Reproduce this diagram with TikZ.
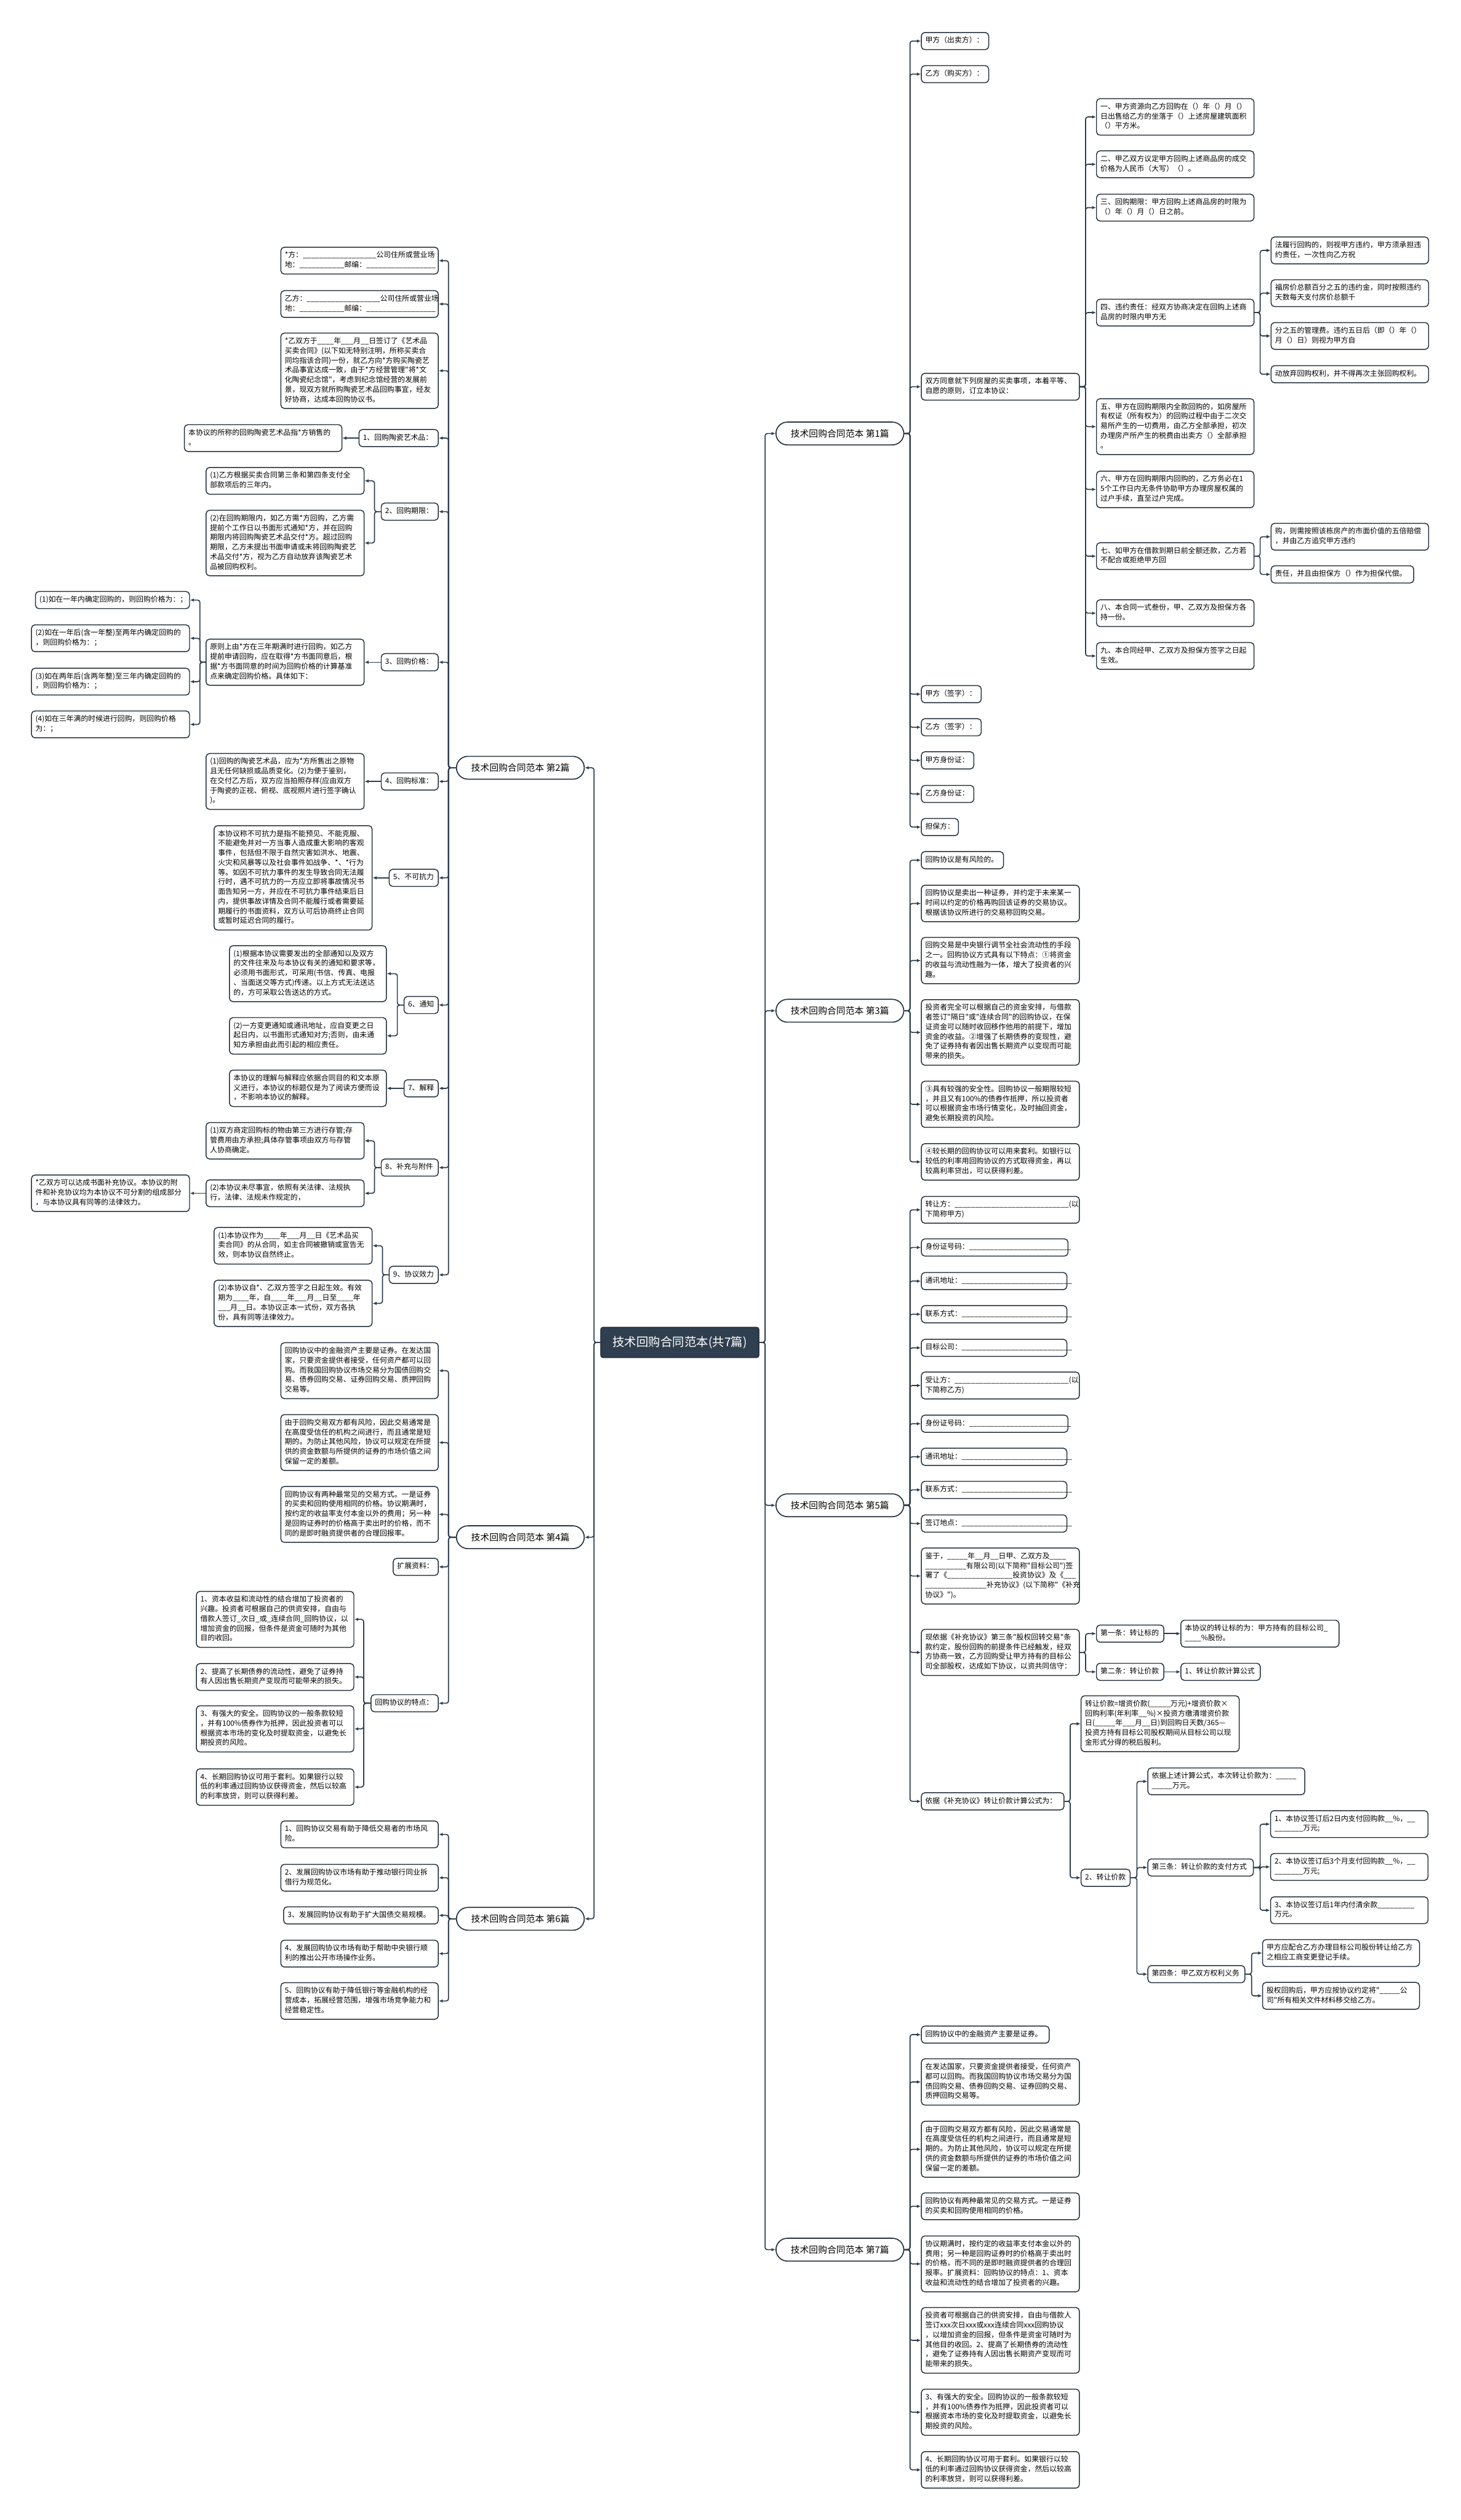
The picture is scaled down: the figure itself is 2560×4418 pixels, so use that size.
\documentclass[tikz,border=0pt]{standalone}
\usepackage{fontspec}
\newfontfamily\cjk{Noto Sans CJK SC}
\usetikzlibrary{arrows.meta}
\definecolor{bd}{HTML}{26323E}
\definecolor{ln}{HTML}{2E3D4C}
\definecolor{rootc}{HTML}{2F3F4F}
\tikzset{
 box/.style={draw=bd, line width=1.6pt, rounded corners=6pt, fill=white, inner xsep=7pt, inner ysep=6.5pt, align=left, font=\cjk\fontsize{12.8}{17}\selectfont, execute at begin node=\strut, execute at end node=\strut},
 pill/.style={draw=bd, line width=1.8pt, rounded corners=20pt, minimum width=224pt, minimum height=40pt, inner sep=0pt, fill=white, font=\cjk\fontsize{16}{20}\selectfont},
 rootbox/.style={draw=bd, line width=1.8pt, rounded corners=4pt, fill=rootc, text=white, minimum width=277pt, minimum height=53pt, inner sep=0pt, font=\cjk\fontsize{21}{25}\selectfont},
 conn/.style={draw=ln, line width=1.8pt, rounded corners=4pt, -{Latex[length=7pt,width=6pt]}},
}
\newcommand\nodeR[5]{\node[box,anchor=west,text width=#4pt] (#1) at (#2,#3) {#5};}
\newcommand\nodeL[5]{\node[box,anchor=east,text width=#4pt] (#1) at (#2,#3) {#5};}
\begin{document}
\begin{tikzpicture}[x=1pt,y=-1pt]
\fill[white] (0,0) rectangle (2560,4418);
\useasboundingbox (0,0) rectangle (2560,4418);
% root and level 1
\node[rootbox] (root) at (1191.5,2353.5) {技术回购合同范本(共7篇)};
\node[pill] (p1) at (1472,760) {技术回购合同范本 第1篇};
\node[pill] (p3) at (1472,1772) {技术回购合同范本 第3篇};
\node[pill] (p5) at (1472,2639) {技术回购合同范本 第5篇};
\node[pill] (p7) at (1472,3944) {技术回购合同范本 第7篇};
\node[pill] (p2) at (912,1346) {技术回购合同范本 第2篇};
\node[pill] (p4) at (912,2695) {技术回购合同范本 第4篇};
\node[pill] (p6) at (912,3364) {技术回购合同范本 第6篇};
% ---- 第1篇
\nodeR{a1}{1614}{72}{104}{甲方（出卖方）：}
\nodeR{a2}{1614}{130}{104}{乙方（购买方）：}
\nodeR{a3}{1614}{678}{263}{双方同意就下列房屋的买卖事项，本着平等、\\自愿的原则，订立本协议：}
\nodeR{a31}{1921}{205}{262}{一、甲方资源向乙方回购在（）年（）月（）\\日出售给乙方的坐落于（）上述房屋建筑面积\\（）平方米。}
\nodeR{a32}{1921}{288}{262}{二、甲乙双方议定甲方回购上述商品房的成交\\价格为人民币（大写）（）。}
\nodeR{a33}{1921}{364}{262}{三、回购期限：甲方回购上述商品房的时限为\\（）年（）月（）日之前。}
\nodeR{a34}{1921}{548}{262}{四、违约责任：经双方协商决定在回购上述商\\品房的时限内甲方无}
\nodeR{a341}{2227}{439}{262}{法履行回购的，则视甲方违约，甲方须承担违\\约责任，一次性向乙方祝}
\nodeR{a342}{2227}{514}{262}{福房价总额百分之五的违约金，同时按照违约\\天数每天支付房价总额千}
\nodeR{a343}{2227}{589}{262}{分之五的管理费。违约五日后（即（）年（）\\月（）日）则视为甲方自}
\nodeR{a344}{2227}{656}{262}{动放弃回购权利，并不得再次主张回购权利。}
\nodeR{a35}{1921}{748}{262}{五、甲方在回购期限内全款回购的，如房屋所\\有权证（所有权为）的回购过程中由于二次交\\易所产生的一切费用，由乙方全部承担，初次\\办理房产所产生的税费由出卖方（）全部承担\\。}
\nodeR{a36}{1921}{858}{262}{六、甲方在回购期限内回购的，乙方务必在1\\5个工作日内无条件协助甲方办理房屋权属的\\过户手续，直至过户完成。}
\nodeR{a37}{1921}{975}{262}{七、如甲方在借款到期日前全额还款，乙方若\\不配合或拒绝甲方回}
\nodeR{a371}{2227}{941}{262}{购，则需按照该栋房产的市面价值的五倍赔偿\\，并由乙方追究甲方违约}
\nodeR{a372}{2227}{1007}{236}{责任，并且由担保方（）作为担保代偿。}
\nodeR{a38}{1921}{1075}{262}{八、本合同一式叁份，甲、乙双方及担保方各\\持一份。}
\nodeR{a39}{1921}{1150}{262}{九、本合同经甲、乙双方及担保方签字之日起\\生效。}
\nodeR{a4}{1614}{1217}{91}{甲方（签字）：}
\nodeR{a5}{1614}{1275}{91}{乙方（签字）：}
\nodeR{a6}{1614}{1333}{78}{甲方身份证：}
\nodeR{a7}{1614}{1392}{78}{乙方身份证：}
\nodeR{a8}{1614}{1450}{51}{担保方：}
% ---- 第3篇
\nodeR{b1}{1614}{1508}{130}{回购协议是有风险的。}
\nodeR{b2}{1614}{1584}{263}{回购协议是卖出一种证券，并约定于未来某一\\时间以约定的价格再购回该证券的交易协议。\\根据该协议所进行的交易称回购交易。}
\nodeR{b3}{1614}{1684}{263}{回购交易是中央银行调节全社会流动性的手段\\之一。回购协议方式具有以下特点：①将资金\\的收益与流动性融为一体，增大了投资者的兴\\趣。}
\nodeR{b4}{1614}{1810}{263}{投资者完全可以根据自己的资金安排，与借款\\者签订"隔日"或"连续合同"的回购协议，在保\\证资金可以随时收回移作他用的前提下，增加\\资金的收益。②增强了长期债券的变现性，避\\免了证券持有者因出售长期资产以变现而可能\\带来的损失。}
\nodeR{b5}{1614}{1936}{263}{③具有较强的安全性。回购协议一般期限较短\\，并且又有100\%的债券作抵押，所以投资者\\可以根据资金市场行情变化，及时抽回资金，\\避免长期投资的风险。}
\nodeR{b6}{1614}{2037}{263}{④较长期的回购协议可以用来套利。如银行以\\较低的利率用回购协议的方式取得资金，再以\\较高利率贷出，可以获得利差。}
% ---- 第5篇
\nodeR{c1}{1614}{2121}{263}{转让方：\_\_\_\_\_\_\_\_\_\_\_\_\_\_\_\_\_\_\_\_\_\_\_\_\_\_\_\_(以\\下简称甲方)}
\nodeR{c2}{1614}{2187}{243}{身份证号码：\_\_\_\_\_\_\_\_\_\_\_\_\_\_\_\_\_\_\_\_\_\_\_\_\_}
\nodeR{c3}{1614}{2246}{241}{通讯地址：\_\_\_\_\_\_\_\_\_\_\_\_\_\_\_\_\_\_\_\_\_\_\_\_\_\_\_}
\nodeR{c4}{1614}{2304}{241}{联系方式：\_\_\_\_\_\_\_\_\_\_\_\_\_\_\_\_\_\_\_\_\_\_\_\_\_\_\_}
\nodeR{c5}{1614}{2363}{241}{目标公司：\_\_\_\_\_\_\_\_\_\_\_\_\_\_\_\_\_\_\_\_\_\_\_\_\_\_\_}
\nodeR{c6}{1614}{2429}{263}{受让方：\_\_\_\_\_\_\_\_\_\_\_\_\_\_\_\_\_\_\_\_\_\_\_\_\_\_\_\_(以\\下简称乙方)}
\nodeR{c7}{1614}{2496}{243}{身份证号码：\_\_\_\_\_\_\_\_\_\_\_\_\_\_\_\_\_\_\_\_\_\_\_\_\_}
\nodeR{c8}{1614}{2554}{241}{通讯地址：\_\_\_\_\_\_\_\_\_\_\_\_\_\_\_\_\_\_\_\_\_\_\_\_\_\_\_}
\nodeR{c9}{1614}{2612}{241}{联系方式：\_\_\_\_\_\_\_\_\_\_\_\_\_\_\_\_\_\_\_\_\_\_\_\_\_\_\_}
\nodeR{c10}{1614}{2671}{241}{签订地点：\_\_\_\_\_\_\_\_\_\_\_\_\_\_\_\_\_\_\_\_\_\_\_\_\_\_\_}
\nodeR{c11}{1614}{2763}{263}{鉴于，\_\_\_\_\_年\_\_月\_\_日甲、乙双方及\_\_\_\_\\\_\_\_\_\_\_\_\_\_\_有限公司(以下简称"目标公司")签\\署了《\_\_\_\_\_\_\_\_\_\_\_\_\_\_\_\_投资协议》及《\_\_\_\\\_\_\_\_\_\_\_\_\_\_\_\_\_\_\_补充协议》(以下简称"《补充\\协议》")。}
\nodeR{c12}{1614}{2897}{263}{现依据《补充协议》第三条"股权回转交易"条\\款约定，股份回购的前提条件已经触发，经双\\方协商一致，乙方回购受让甲方持有的目标公\\司全部股权，达成如下协议，以资共同信守：}
\nodeR{c121}{1921}{2864}{104}{第一条：转让标的}
\nodeR{c1211}{2069}{2864}{263}{本协议的转让标的为：甲方持有的目标公司\_\\\_\_\_\_\%股份。}
\nodeR{c122}{1921}{2931}{104}{第二条：转让价款}
\nodeR{c1221}{2069}{2931}{125}{1、转让价款计算公式}
\nodeR{c13}{1614}{3158}{236}{依据《补充协议》转让价款计算公式为：}
\nodeR{c131}{1894}{3022}{263}{转让价款=增资价款(\_\_\_\_\_万元)+增资价款×\\回购利率(年利率\_\_\%)×投资方缴清增资价款\\日(\_\_\_\_\_年\_\_\_月\_\_日)到回购日天数/365—\\投资方持有目标公司股权期间从目标公司以现\\金形式分得的税后股利。}
\nodeR{c132}{1894}{3292}{72}{2、转让价款}
\nodeR{c1321}{2011}{3123}{261}{依据上述计算公式，本次转让价款为：\_\_\_\_\_\\\_\_\_\_\_万元。}
\nodeR{c1322}{2011}{3274}{171}{第三条：转让价款的支付方式}
\nodeR{c13221}{2226}{3198}{262}{1、本协议签订后2日内支付回购款\_\_\%，\_\_\\\_\_\_\_\_\_\_万元;}
\nodeR{c13222}{2226}{3273}{262}{2、本协议签订后3个月支付回购款\_\_\%，\_\_\\\_\_\_\_\_\_\_万元;}
\nodeR{c13223}{2226}{3349}{262}{3、本协议签订后1年内付清余款\_\_\_\_\_\_\_\_\_\\万元。}
\nodeR{c1323}{2011}{3461}{156}{第四条：甲乙双方权利义务}
\nodeR{c13231}{2212}{3424}{261}{甲方应配合乙方办理目标公司股份转让给乙方\\之相应工商变更登记手续。}
\nodeR{c13232}{2212}{3499}{261}{股权回购后，甲方应按协议约定将"\_\_\_\_\_公\\司"所有相关文件材料移交给乙方。}
% ---- 第7篇
\nodeR{d1}{1614}{3567}{210}{回购协议中的金融资产主要是证券。}
\nodeR{d2}{1614}{3650}{263}{在发达国家，只要资金提供者接受，任何资产\\都可以回购。而我国回购协议市场交易分为国\\债回购交易、债券回购交易、证券回购交易、\\质押回购交易等。}
\nodeR{d3}{1614}{3768}{263}{由于回购交易双方都有风险，因此交易通常是\\在高度受信任的机构之间进行，而且通常是短\\期的。为防止其他风险，协议可以规定在所提\\供的资金数额与所提供的证券的市场价值之间\\保留一定的差额。}
\nodeR{d4}{1614}{3868}{263}{回购协议有两种最常见的交易方式。一是证券\\的买卖和回购使用相同的价格。}
\nodeR{d5}{1614}{3969}{263}{协议期满时，按约定的收益率支付本金以外的\\费用；另一种是回购证券时的价格高于卖出时\\的价格，而不同的是即时融资提供者的合理回\\报率。扩展资料：回购协议的特点：1、资本\\收益和流动性的结合增加了投资者的兴趣。}
\nodeR{d6}{1614}{4103}{263}{投资者可根据自己的供资安排，自由与借款人\\签订xxx次日xxx或xxx连续合同xxx回购协议\\，以增加资金的回报，但条件是资金可随时为\\其他目的收回。2、提高了长期债券的流动性\\，避免了证券持有人因出售长期资产变现而可\\能带来的损失。}
\nodeR{d7}{1614}{4229}{263}{3、有强大的安全。回购协议的一般条款较短\\，并有100\%债券作为抵押，因此投资者可以\\根据资本市场的变化及时提取资金，以避免长\\期投资的风险。}
\nodeR{d8}{1614}{4330}{263}{4、长期回购协议可用于套利。如果银行以较\\低的利率通过回购协议获得资金，然后以较高\\的利率放贷，则可以获得利差。}
% ---- 第2篇 (left)
\nodeL{e1}{769}{457}{262}{*方：\_\_\_\_\_\_\_\_\_\_\_\_\_\_\_\_\_\_公司住所或营业场\\地：\_\_\_\_\_\_\_\_\_\_\_邮编：\_\_\_\_\_\_\_\_\_\_\_\_\_\_\_\_\_}
\nodeL{e2}{769}{533}{262}{乙方：\_\_\_\_\_\_\_\_\_\_\_\_\_\_\_\_\_\_公司住所或营业场\\地：\_\_\_\_\_\_\_\_\_\_\_邮编：\_\_\_\_\_\_\_\_\_\_\_\_\_\_\_\_\_}
\nodeL{e3}{769}{650}{262}{*乙双方于\_\_\_\_年\_\_\_月\_\_日签订了《艺术品\\买卖合同》(以下如无特别注明，所称买卖合\\同均指该合同)一份，就乙方向*方购买陶瓷艺\\术品事宜达成一致，由于*方经营管理"将*文\\化陶瓷纪念馆"，考虑到纪念馆经营的发展前\\景，现双方就所购陶瓷艺术品回购事宜，经友\\好协商，达成本回购协议书。}
\nodeL{e4}{769}{768}{125}{1、回购陶瓷艺术品：}
\nodeL{e41}{600}{768}{262}{本协议的所称的回购陶瓷艺术品指*方销售的\\。}
\nodeL{e5}{769}{897}{86}{2、回购期限：}
\nodeL{e51}{639}{843}{263}{(1)乙方根据买卖合同第三条和第四条支付全\\部款项后的三年内。}
\nodeL{e52}{639}{952}{263}{(2)在回购期限内，如乙方需*方回购，乙方需\\提前个工作日以书面形式通知*方，并在回购\\期限内将回购陶瓷艺术品交付*方。超过回购\\期限，乙方未提出书面申请或未将回购陶瓷艺\\术品交付*方，视为乙方自动放弃该陶瓷艺术\\品被回购权利。}
\nodeL{e6}{769}{1161}{86}{3、回购价格：}
\nodeL{e61}{639}{1161}{263}{原则上由*方在三年期满时进行回购，如乙方\\提前申请回购，应在取得*方书面同意后，根\\据*方书面同意的时间为回购价格的计算基准\\点来确定回购价格。具体如下：}
\nodeL{e611}{333}{1052}{256}{(1)如在一年内确定回购的，则回购价格为：；}
\nodeL{e612}{333}{1119}{263}{(2)如在一年后(含一年整)至两年内确定回购的\\，则回购价格为：；}
\nodeL{e613}{333}{1195}{263}{(3)如在两年后(含两年整)至三年内确定回购的\\，则回购价格为：；}
\nodeL{e614}{333}{1270}{263}{(4)如在三年满的时候进行回购，则回购价格\\为：；}
\nodeL{e7}{769}{1370}{86}{4、回购标准：}
\nodeL{e71}{639}{1370}{263}{(1)回购的陶瓷艺术品，应为*方所售出之原物\\且无任何缺损或品质变化。(2)为便于鉴别，\\在交付乙方后，双方应当拍照存样(应由双方\\于陶瓷的正视、俯视、底视照片进行签字确认\\)。}
\nodeL{e8}{769}{1539}{72}{5、不可抗力}
\nodeL{e81}{653}{1539}{263}{本协议称不可抗力是指不能预见、不能克服、\\不能避免并对一方当事人造成重大影响的客观\\事件，包括但不限于自然灾害如洪水、地震、\\火灾和风暴等以及社会事件如战争、*、*行为\\等。如因不可抗力事件的发生导致合同无法履\\行时，遇不可抗力的一方应立即将事故情况书\\面告知另一方，并应在不可抗力事件结束后日\\内，提供事故详情及合同不能履行或者需要延\\期履行的书面资料，双方认可后协商终止合同\\或暂时延迟合同的履行。}
\nodeL{e9}{769}{1762}{46}{6、通知}
\nodeL{e91}{678}{1707}{261}{(1)根据本协议需要发出的全部通知以及双方\\的文件往来及与本协议有关的通知和要求等，\\必须用书面形式，可采用(书信、传真、电报\\、当面送交等方式)传递。以上方式无法送达\\的，方可采取公告送达的方式。}
\nodeL{e92}{678}{1816}{261}{(2)一方变更通知或通讯地址，应自变更之日\\起日内，以书面形式通知对方;否则，由未通\\知方承担由此而引起的相应责任。}
\nodeL{e10}{769}{1908}{46}{7、解释}
\nodeL{e101}{678}{1908}{261}{本协议的理解与解释应依据合同目的和文本原\\义进行，本协议的标题仅是为了阅读方便而设\\，不影响本协议的解释。}
\nodeL{e11}{769}{2047}{86}{8、补充与附件}
\nodeL{e111}{639}{2000}{263}{(1)双方商定回购标的物由第三方进行存管;存\\管费用由方承担;具体存管事项由双方与存管\\人协商确定。}
\nodeL{e112}{639}{2092}{263}{(2)本协议未尽事宜，依照有关法律、法规执\\行，法律、法规未作规定的，}
\nodeL{e1121}{333}{2092}{263}{*乙双方可以达成书面补充协议。本协议的附\\件和补充协议均为本协议不可分割的组成部分\\，与本协议具有同等的法律效力。}
\nodeL{e12}{769}{2235}{72}{9、协议效力}
\nodeL{e121}{653}{2184}{263}{(1)本协议作为\_\_\_\_年\_\_\_月\_\_日《艺术品买\\卖合同》的从合同，如主合同被撤销或宣告无\\效，则本协议自然终止。}
\nodeL{e122}{653}{2285}{263}{(2)本协议自*、乙双方签字之日起生效。有效\\期为\_\_\_\_年，自\_\_\_\_年\_\_\_月\_\_日至\_\_\_\_年\\\_\_\_月\_\_日。本协议正本一式份，双方各执\\份，具有同等法律效力。}
% ---- 第4篇
\nodeL{f1}{769}{2403}{262}{回购协议中的金融资产主要是证券。在发达国\\家，只要资金提供者接受，任何资产都可以回\\购。而我国回购协议市场交易分为国债回购交\\易、债券回购交易、证券回购交易、质押回购\\交易等。}
\nodeL{f2}{769}{2529}{262}{由于回购交易双方都有风险，因此交易通常是\\在高度受信任的机构之间进行，而且通常是短\\期的。为防止其他风险，协议可以规定在所提\\供的资金数额与所提供的证券的市场价值之间\\保留一定的差额。}
\nodeL{f3}{769}{2655}{262}{回购协议有两种最常见的交易方式。一是证券\\的买卖和回购使用相同的价格。协议期满时，\\按约定的收益率支付本金以外的费用；另一种\\是回购证券时的价格高于卖出时的价格，而不\\同的是即时融资提供者的合理回报率。}
\nodeL{f4}{769}{2747}{65}{扩展资料：}
\nodeL{f5}{769}{2986}{104}{回购协议的特点：}
\nodeL{f51}{621}{2839}{262}{1、资本收益和流动性的结合增加了投资者的\\兴趣。投资者可根据自己的供资安排，自由与\\借款人签订\_次日\_或\_连续合同\_回购协议，以\\增加资金的回报，但条件是资金可随时为其他\\目的收回。}
\nodeL{f52}{621}{2940}{262}{2、提高了长期债券的流动性，避免了证券持\\有人因出售长期资产变现而可能带来的损失。}
\nodeL{f53}{621}{3031}{262}{3、有强大的安全。回购协议的一般条款较短\\，并有100\%债券作为抵押，因此投资者可以\\根据资本市场的变化及时提取资金，以避免长\\期投资的风险。}
\nodeL{f54}{621}{3133}{262}{4、长期回购协议可用于套利。如果银行以较\\低的利率通过回购协议获得资金，然后以较高\\的利率放贷，则可以获得利差。}
% ---- 第6篇
\nodeL{g1}{769}{3216}{262}{1、回购协议交易有助于降低交易者的市场风\\险。}
\nodeL{g2}{769}{3292}{262}{2、发展回购协议市场有助于推动银行同业拆\\借行为规范化。}
\nodeL{g3}{769}{3358}{257}{3、发展回购协议有助于扩大国债交易规模。}
\nodeL{g4}{769}{3425}{262}{4、发展回购协议市场有助于帮助中央银行顺\\利的推出公开市场操作业务。}
\nodeL{g5}{769}{3508}{262}{5、回购协议有助于降低银行等金融机构的经\\营成本，拓展经营范围，增强市场竞争能力和\\经营稳定性。}
% ---- connectors
\foreach \nn in {p1,p3,p5,p7} \draw[conn] (root.east) -- ++(10,0) |- (\nn.west);
\foreach \nn in {p2,p4,p6} \draw[conn] (root.west) -- ++(-11,0) |- (\nn.east);
\foreach \nn in {a1,a2,a3,a4,a5,a6,a7,a8} \draw[conn] (p1.east) -- ++(10,0) |- (\nn.west);
\foreach \nn in {a31,a32,a33,a34,a35,a36,a37,a38,a39} \draw[conn] (a3.east) -- ++(10,0) |- (\nn.west);
\foreach \nn in {a341,a342,a343,a344} \draw[conn] (a34.east) -- ++(10,0) |- (\nn.west);
\foreach \nn in {a371,a372} \draw[conn] (a37.east) -- ++(10,0) |- (\nn.west);
\foreach \nn in {b1,b2,b3,b4,b5,b6} \draw[conn] (p3.east) -- ++(10,0) |- (\nn.west);
\foreach \nn in {c1,c2,c3,c4,c5,c6,c7,c8,c9,c10,c11,c12,c13} \draw[conn] (p5.east) -- ++(10,0) |- (\nn.west);
\foreach \nn in {c121,c122} \draw[conn] (c12.east) -- ++(10,0) |- (\nn.west);
\draw[conn] (c121.east) -- (c1211.west);
\draw[conn] (c122.east) -- (c1221.west);
\foreach \nn in {c131,c132} \draw[conn] (c13.east) -- ++(10,0) |- (\nn.west);
\foreach \nn in {c1321,c1322,c1323} \draw[conn] (c132.east) -- ++(11,0) |- (\nn.west);
\foreach \nn in {c13221,c13222,c13223} \draw[conn] (c1322.east) -- ++(11,0) |- (\nn.west);
\foreach \nn in {c13231,c13232} \draw[conn] (c1323.east) -- ++(11,0) |- (\nn.west);
\foreach \nn in {d1,d2,d3,d4,d5,d6,d7,d8} \draw[conn] (p7.east) -- ++(10,0) |- (\nn.west);
\foreach \nn in {e1,e2,e3,e4,e5,e6,e7,e8,e9,e10,e11,e12} \draw[conn] (p2.west) -- ++(-13,0) |- (\nn.east);
\draw[conn] (e4.west) -- (e41.east);
\foreach \nn in {e51,e52} \draw[conn] (e5.west) -- ++(-11,0) |- (\nn.east);
\draw[conn] (e6.west) -- (e61.east);
\foreach \nn in {e611,e612,e613,e614} \draw[conn] (e61.west) -- ++(-10,0) |- (\nn.east);
\draw[conn] (e7.west) -- (e71.east);
\draw[conn] (e8.west) -- (e81.east);
\foreach \nn in {e91,e92} \draw[conn] (e9.west) -- ++(-11,0) |- (\nn.east);
\draw[conn] (e10.west) -- (e101.east);
\foreach \nn in {e111,e112} \draw[conn] (e11.west) -- ++(-11,0) |- (\nn.east);
\draw[conn] (e112.west) -- (e1121.east);
\foreach \nn in {e121,e122} \draw[conn] (e12.west) -- ++(-11,0) |- (\nn.east);
\foreach \nn in {f1,f2,f3,f4,f5} \draw[conn] (p4.west) -- ++(-13,0) |- (\nn.east);
\foreach \nn in {f51,f52,f53,f54} \draw[conn] (f5.west) -- ++(-12,0) |- (\nn.east);
\foreach \nn in {g1,g2,g3,g4,g5} \draw[conn] (p6.west) -- ++(-13,0) |- (\nn.east);
\end{tikzpicture}
\end{document}
